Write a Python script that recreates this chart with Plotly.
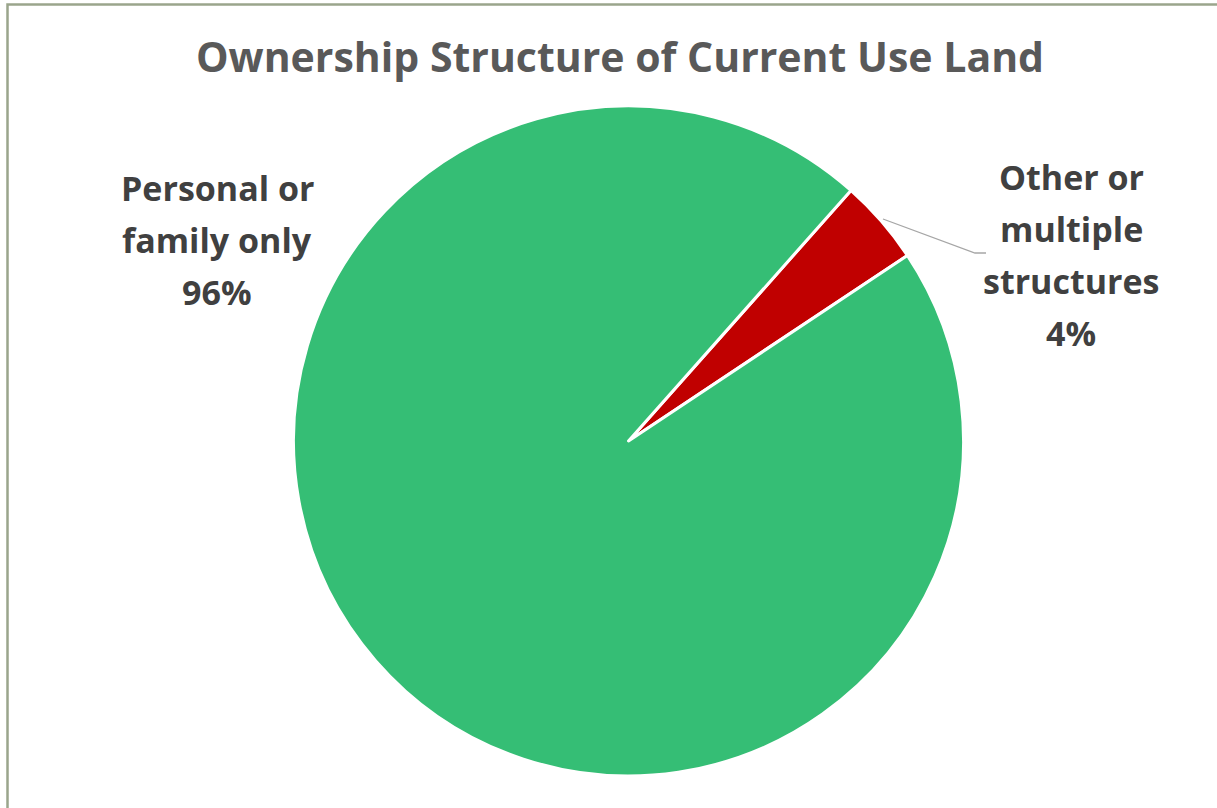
import plotly.graph_objects as go

categories = ["Other or<br>multiple<br>structures", "Personal or<br>family only"]
values = [4.1, 95.9]
colors = ["#C00000", "#35BE75"]
title_text = "Ownership Structure of Current Use Land"

W, H = 1217, 808
total = sum(values)
pcts = [v / total for v in values]

fig = go.Figure(go.Pie(
    labels=categories,
    values=values,
    sort=False,
    direction="clockwise",
    rotation=41.6,
    marker=dict(colors=colors, line=dict(color="#FFFFFF", width=3)),
    textinfo="none",
    hoverinfo="label+percent",
    showlegend=False,
    domain=dict(x=[293.5 / W, 963.5 / W], y=[1 - 776 / H, 1 - 106 / H]),
))

font_fam = "Open Sans, Liberation Sans, Arial, sans-serif"
label_pos = [(1071, 255), (217, 240)]
line_gap = 52
for cat, p, (px, py) in zip(categories, pcts, label_pos):
    lines = cat.split("<br>") + [f"{p:.0%}"]
    n = len(lines)
    for i, ln in enumerate(lines):
        ly = py + (i - (n - 1) / 2) * line_gap
        fig.add_annotation(
            x=px / W, y=1 - ly / H, xref="paper", yref="paper",
            text=f"<b>{ln}</b>", showarrow=False,
            font=dict(family=font_fam, size=34, color="#404040"),
            align="center", xanchor="center", yanchor="middle",
        )

# leader line for small slice
fig.add_shape(type="path", xref="paper", yref="paper",
              path=f"M {883/W},{1-219/H} L {975/W},{1-253/H} L {986/W},{1-253/H}",
              line=dict(color="#A6A6A6", width=1.3))

# chart border
fig.add_shape(type="path", xref="paper", yref="paper",
              path=f"M {7.5/W},{1-812/H} L {7.5/W},{1-4.5/H} L {1220/W},{1-4.5/H}",
              line=dict(color="#9AA58C", width=2.5))

fig.update_layout(
    width=W, height=H,
    margin=dict(l=0, r=0, t=0, b=0),
    paper_bgcolor="white", plot_bgcolor="white",
    title=dict(text=f"<b>{title_text}</b>", x=620 / W, xanchor="center",
               y=1 - 58 / H, yanchor="middle",
               font=dict(family=font_fam, size=41, color="#595959")),
)

fig.write_html("out.html", config={"displayModeBar": False},
               post_script="document.body.style.margin='0';")
